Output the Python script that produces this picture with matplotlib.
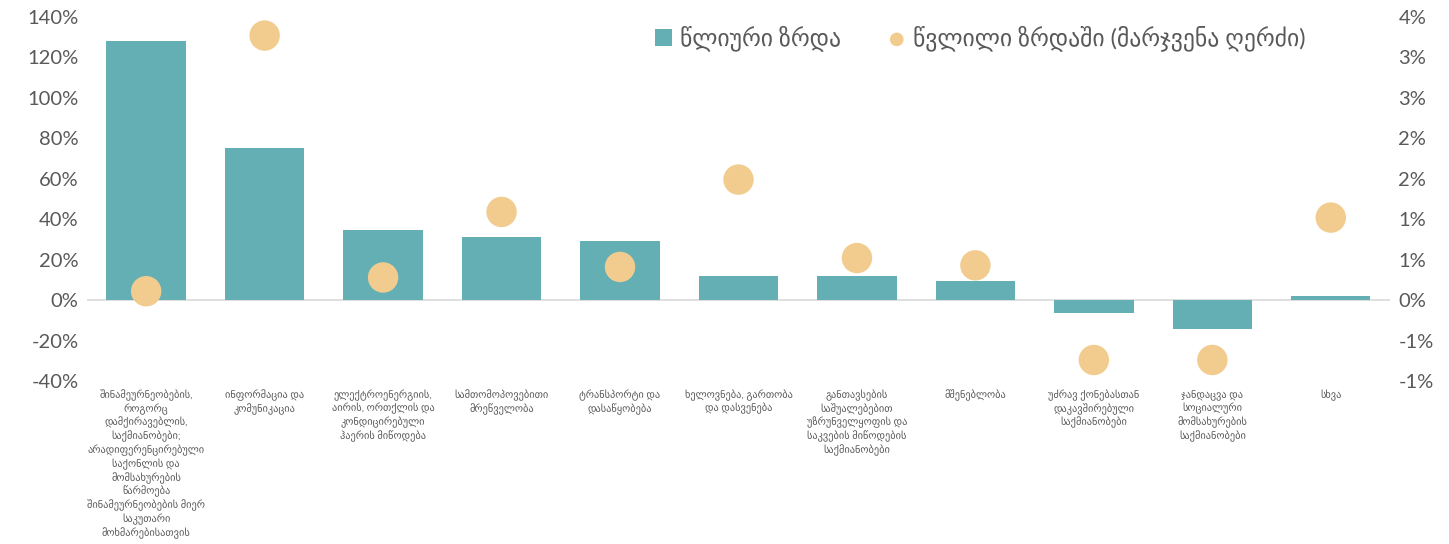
import matplotlib
matplotlib.use("Agg")
import matplotlib.pyplot as plt
from matplotlib.ticker import FixedLocator

categories = [
    "შინამეურნეობების,\nროგორც\nდამქირავებლის,\nსაქმიანობები;\nარადიფერენცირებული\nსაქონლის და\nმომსახურების\nწარმოება\nშინამეურნეობების მიერ\nსაკუთარი\nმოხმარებისათვის",
    "ინფორმაცია და\nკომუნიკაცია",
    "ელექტროენერგიის,\nაირის, ორთქლის და\nკონდიცირებული\nჰაერის მიწოდება",
    "სამთომოპოვებითი\nმრეწველობა",
    "ტრანსპორტი და\nდასაწყობება",
    "ხელოვნება, გართობა\nდა დასვენება",
    "განთავსების\nსაშუალებებით\nუზრუნველყოფის და\nსაკვების მიწოდების\nსაქმიანობები",
    "მშენებლობა",
    "უძრავ ქონებასთან\nდაკავშირებული\nსაქმიანობები",
    "ჯანდაცვა და\nსოციალური\nმომსახურების\nსაქმიანობები",
    "სხვა",
]
annual_growth = [128, 75, 34.6, 31, 29, 11.9, 11.8, 9.3, -6.4, -14.3, 1.8]   # %
contribution = [0.11, 3.27, 0.28, 1.09, 0.41, 1.49, 0.52, 0.43, -0.74, -0.74, 1.02]  # %

left_ticks = [-40, -20, 0, 20, 40, 60, 80, 100, 120, 140]
left_labels = ["-40%", "-20%", "0%", "20%", "40%", "60%", "80%", "100%", "120%", "140%"]
right_ticks = [-1.0, -0.5, 0.0, 0.5, 1.0, 1.5, 2.0, 2.5, 3.0, 3.5]
right_labels = ["-1%", "-1%", "0%", "1%", "1%", "2%", "2%", "3%", "3%", "4%"]

legend_bar = "წლიური ზრდა"
legend_dot = "წვლილი ზრდაში (მარჯვენა ღერძი)"

BAR_C = "#63AFB4"
DOT_C = "#F2CC8F"
TXT_C = "#595959"

plt.rcParams["font.family"] = ["Lato", "DejaVu Sans"]

fig = plt.figure(figsize=(14.49, 5.44), dpi=100)
ax = fig.add_axes([0.060, 0.2996, 0.8993, 0.6692])
ax2 = ax.twinx()

x = list(range(len(categories)))
bars = ax.bar(x, annual_growth, width=0.67, color=BAR_C, zorder=2, label=legend_bar)
ax.axhline(0, color="#D9D9D9", lw=1.2, zorder=1)
ax.set_xlim(-0.5, len(categories) - 0.5)
ax.set_ylim(-40, 140)
ax.yaxis.set_major_locator(FixedLocator(left_ticks))
ax.set_yticklabels(left_labels)

pts = ax2.scatter(x, contribution, s=480, color=DOT_C, zorder=3, label=legend_dot, edgecolors="none")
ax2.set_ylim(-1.0, 3.5)
ax2.yaxis.set_major_locator(FixedLocator(right_ticks))
ax2.set_yticklabels(right_labels)

for a in (ax, ax2):
    for s in a.spines.values():
        s.set_visible(False)
    a.tick_params(axis="y", length=0, labelsize=14.5, labelcolor=TXT_C, pad=6)

ax.set_xticks(x)
ax.set_xticklabels(categories, fontsize=7.5, color=TXT_C, linespacing=1.27, va="top", ha="center")
ax.tick_params(axis="x", length=0, pad=6)

leg = ax.legend([bars, pts], [legend_bar, legend_dot], loc="upper left",
                bbox_to_anchor=(0.42, 1.035), ncol=2, frameon=False,
                fontsize=17, labelcolor=TXT_C, handlelength=0.7, handletextpad=0.35,
                columnspacing=2.0, markerscale=0.45)

fig.savefig("out.png", dpi=100)
